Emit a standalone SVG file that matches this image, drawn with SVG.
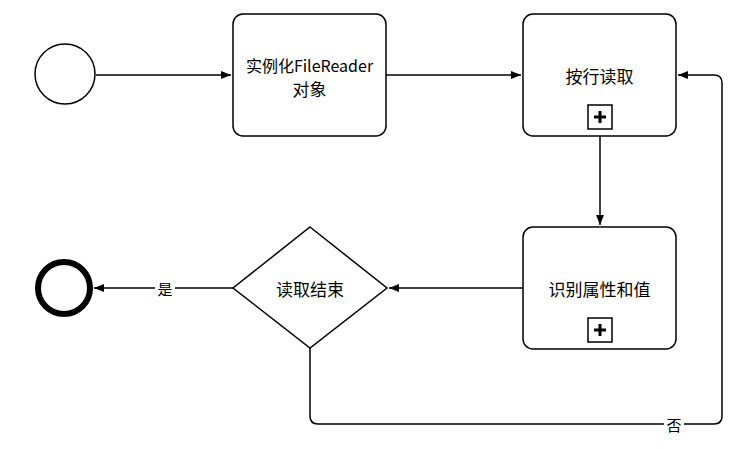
<svg xmlns="http://www.w3.org/2000/svg" width="750" height="449" viewBox="0 0 750 449">
<style>
.task{fill:#fff;stroke:#000;stroke-width:1.5}
.lbl{font-family:"Noto Sans CJK SC","Microsoft YaHei",sans-serif;font-size:17px;fill:#000;text-anchor:middle;dominant-baseline:central}
.edge{fill:none;stroke:#000;stroke-width:1.5}
.plus{fill:#fff;stroke:#000;stroke-width:1.5}
.pl{stroke:#000;stroke-width:3}
</style>
<defs>
<marker id="arr" viewBox="0 0 10 10" refX="10" refY="5" markerWidth="10" markerHeight="10" markerUnits="userSpaceOnUse" orient="auto">
<path d="M0,1 L10,5 L0,9 Z" fill="#000"/>
</marker>
</defs>
<g id="connectors">
<path class="edge" d="M96,75 H231" marker-end="url(#arr)"/>
<path class="edge" d="M386,75 H521" marker-end="url(#arr)"/>
<path class="edge" d="M600,136 V225" marker-end="url(#arr)"/>
<path class="edge" d="M523,288 H389" marker-end="url(#arr)"/>
<path class="edge" d="M233,288 H94" marker-end="url(#arr)"/>
<path class="edge" d="M310,348 V416 Q310,424 318,424 H714 Q722,424 722,416 V83 Q722,75 714,75 H678" marker-end="url(#arr)"/>
<rect x="155" y="278" width="20" height="20" fill="#fff"/>
<text class="lbl" x="165" y="288" style="font-size:15px">是</text>
<rect x="664" y="414" width="20" height="20" fill="#fff"/>
<text class="lbl" x="674" y="424" style="font-size:15px">否</text>
</g>
<g id="start">
<circle cx="65" cy="74" r="30" fill="#fff" stroke="#000" stroke-width="1.5"/>
</g>
<g id="task1">
<rect class="task" x="233" y="14" width="153" height="122" rx="10"/>
<text class="lbl" x="309.5" y="65" style="font-size:16px">实例化FileReader</text>
<text class="lbl" x="309.5" y="88">对象</text>
</g>
<g id="task2">
<rect class="task" x="523" y="14" width="153" height="122" rx="10"/>
<text class="lbl" x="599.5" y="75">按行读取</text>
<rect class="plus" x="588" y="105" width="24" height="24"/>
<path class="pl" d="M594,117 H606 M600,111 V123"/>
</g>
<g id="task3">
<rect class="task" x="523" y="227" width="153" height="122" rx="10"/>
<text class="lbl" x="599.5" y="288">识别属性和值</text>
<rect class="plus" x="588" y="318" width="24" height="24"/>
<path class="pl" d="M594,330 H606 M600,324 V336"/>
</g>
<g id="gateway">
<path d="M310,227 L387,288 L310,348 L233,288 Z" fill="#fff" stroke="#000" stroke-width="1.5"/>
<text class="lbl" x="310" y="288">读取结束</text>
</g>
<g id="end">
<circle cx="64" cy="288" r="26" fill="#fff" stroke="#000" stroke-width="6"/>
</g>
</svg>
